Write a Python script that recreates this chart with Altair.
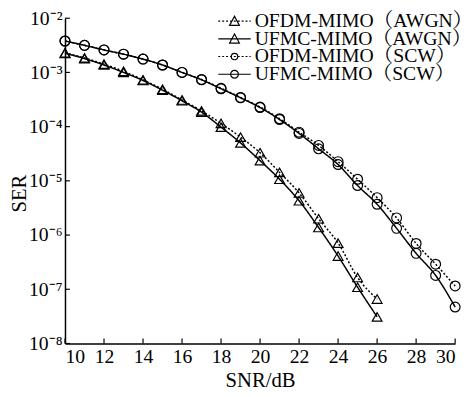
import altair as alt
import pandas as pd

# ---- data ----
snr_awgn = list(range(10, 27))
snr_scw = list(range(10, 31))
ofdm_awgn = [2.3e-3, 1.85e-3, 1.42e-3, 1.05e-3, 7.3e-4, 4.9e-4, 3.1e-4, 1.95e-4, 1.15e-4,
             6.4e-5, 3.3e-5, 1.43e-5, 6.0e-6, 2.0e-6, 7.1e-7, 1.65e-7, 6.6e-8]
ufmc_awgn = [2.25e-3, 1.8e-3, 1.37e-3, 1.0e-3, 7.1e-4, 4.7e-4, 3.0e-4, 1.85e-4, 9.8e-5,
             5.0e-5, 2.36e-5, 1.07e-5, 4.3e-6, 1.38e-6, 4.1e-7, 1.09e-7, 3.1e-8]
ofdm_scw = [3.8e-3, 3.16e-3, 2.6e-3, 2.17e-3, 1.76e-3, 1.37e-3, 1.0e-3, 7.4e-4, 5.1e-4, 3.45e-4,
            2.3e-4, 1.4e-4, 7.9e-5, 4.5e-5, 2.26e-5, 1.07e-5, 4.9e-6, 2.07e-6, 7.0e-7, 2.9e-7, 1.15e-7]
ufmc_scw = [3.8e-3, 3.16e-3, 2.6e-3, 2.17e-3, 1.76e-3, 1.37e-3, 1.0e-3, 7.3e-4, 5.0e-4, 3.4e-4,
            2.25e-4, 1.35e-4, 7.5e-5, 3.9e-5, 2.0e-5, 8.2e-6, 3.7e-6, 1.33e-6, 4.6e-7, 1.8e-7, 4.7e-8]

series_names = ["OFDM-MIMO（AWGN）", "UFMC-MIMO（AWGN）", "OFDM-MIMO（SCW）", "UFMC-MIMO（SCW）"]
x_ticks = list(range(10, 31, 2))
y_ticks = [1e-2, 1e-3, 1e-4, 1e-5, 1e-6, 1e-7, 1e-8]

rows = []
for name, xs, ys in [(series_names[0], snr_awgn, ofdm_awgn),
                     (series_names[1], snr_awgn, ufmc_awgn),
                     (series_names[2], snr_scw, ofdm_scw),
                     (series_names[3], snr_scw, ufmc_scw)]:
    for x, y in zip(xs, ys):
        rows.append({"snr": x, "ser": y, "series": name})
df = pd.DataFrame(rows)

W, H = 397, 331
FONT = "Liberation Serif"
LEGEND_FONT = "Liberation Serif, Noto Serif CJK SC, Noto Sans CJK SC"
TICK = 5

xscale = alt.Scale(domain=[10, 30], nice=False)
yscale = alt.Scale(type="log", domain=[1e-8, 1e-2], nice=False)

# legend symbol paths (line + marker), unit = half symbol width
def dotted(x0, x1, d=0.12):
    parts = []
    x = x0
    while x < x1:
        parts.append(f"M{x:.3f},0L{min(x + d, x1):.3f},0")
        x += 2 * d
    return "".join(parts)

tri = "M-0.3,0.26L0,-0.3L0.3,0.26Z"
circ = "M0.24,0A0.24,0.24 0 1,1 -0.24,0A0.24,0.24 0 1,1 0.24,0Z"
circ_s = "M0.2,0A0.2,0.2 0 1,1 -0.2,0A0.2,0.2 0 1,1 0.2,0Z"
legend_paths = [dotted(-1, 1) + tri, "M-1,0L1,0" + tri, dotted(-1, 1) + circ_s, "M-1,0L1,0" + circ]

X = alt.X("snr:Q", scale=xscale,
          axis=alt.Axis(values=x_ticks, title="SNR/dB", ticks=False, labelPadding=3,
                        titlePadding=4))
Y = alt.Y("ser:Q", scale=yscale,
          axis=alt.Axis(values=y_ticks, title="SER", ticks=False, labelPadding=3,
                        titleX=-36, titleY=178,
                        labelExpr="['10⁻⁸','10⁻⁷','10⁻⁶','10⁻⁵','10⁻⁴','10⁻³','10⁻²'][round(log(datum.value)/LN10)+8]"))

lines = alt.Chart(df).mark_line(interpolate="monotone", color="black", strokeWidth=1.5).encode(
    x=X, y=Y,
    strokeDash=alt.StrokeDash("series:N", scale=alt.Scale(domain=series_names,
                              range=[[2, 2], [1, 0], [2, 2], [1, 0]]), legend=None),
    detail="series:N",
)
points = alt.Chart(df).mark_point(color="black", filled=False, strokeWidth=1.2, opacity=1).encode(
    x=X, y=Y,
    shape=alt.Shape("series:N", scale=alt.Scale(domain=series_names,
                    range=["triangle-up", "triangle-up", "circle", "circle"]), legend=None),
    size=alt.Size("series:N", scale=alt.Scale(domain=series_names, range=[100, 100, 80, 90]),
                  legend=None),
)
legend_layer = alt.Chart(df).mark_point(opacity=0, color="black").encode(
    x=X, y=Y,
    shape=alt.Shape("series:N", scale=alt.Scale(domain=series_names, range=legend_paths),
                    legend=alt.Legend(title=None, orient="none", legendX=155, legendY=-5,
                                      symbolSize=1089, symbolOpacity=1, symbolStrokeColor="black",
                                      symbolFillColor="rgba(0,0,0,0)", symbolStrokeWidth=1.2,
                                      labelFont=LEGEND_FONT, labelFontSize=20, labelColor="black",
                                      labelLimit=400, labelOffset=3, rowPadding=-2,
                                      clipHeight=16)),
)

tick_df_y = pd.DataFrame({"ser": y_ticks})
tick_df_x = pd.DataFrame({"snr": x_ticks})
yticks = alt.Chart(tick_df_y).mark_rule(color="black", strokeWidth=1.2).encode(
    y=Y, x=alt.value(0), x2=alt.value(TICK))
xticks = alt.Chart(tick_df_x).mark_rule(color="black", strokeWidth=1.2).encode(
    x=X, y=alt.value(H), y2=alt.value(H - TICK))

chart = alt.layer(lines, points, legend_layer, yticks, xticks).resolve_scale(
    shape="independent", size="independent"
).properties(
    width=W, height=H,
    autosize=alt.AutoSizeParams(type="none"),
    padding={"left": 58, "top": 7, "right": 8, "bottom": 47},
).configure_axis(
    labelFont=FONT, titleFont=FONT, labelFontSize=20, titleFontSize=21,
    titleFontWeight="normal", labelColor="black", titleColor="black",
    domainColor="black", domainWidth=1.5, grid=False,
).configure_view(stroke=None)

chart.save("out.html", embed_options={"renderer": "svg", "actions": False})
